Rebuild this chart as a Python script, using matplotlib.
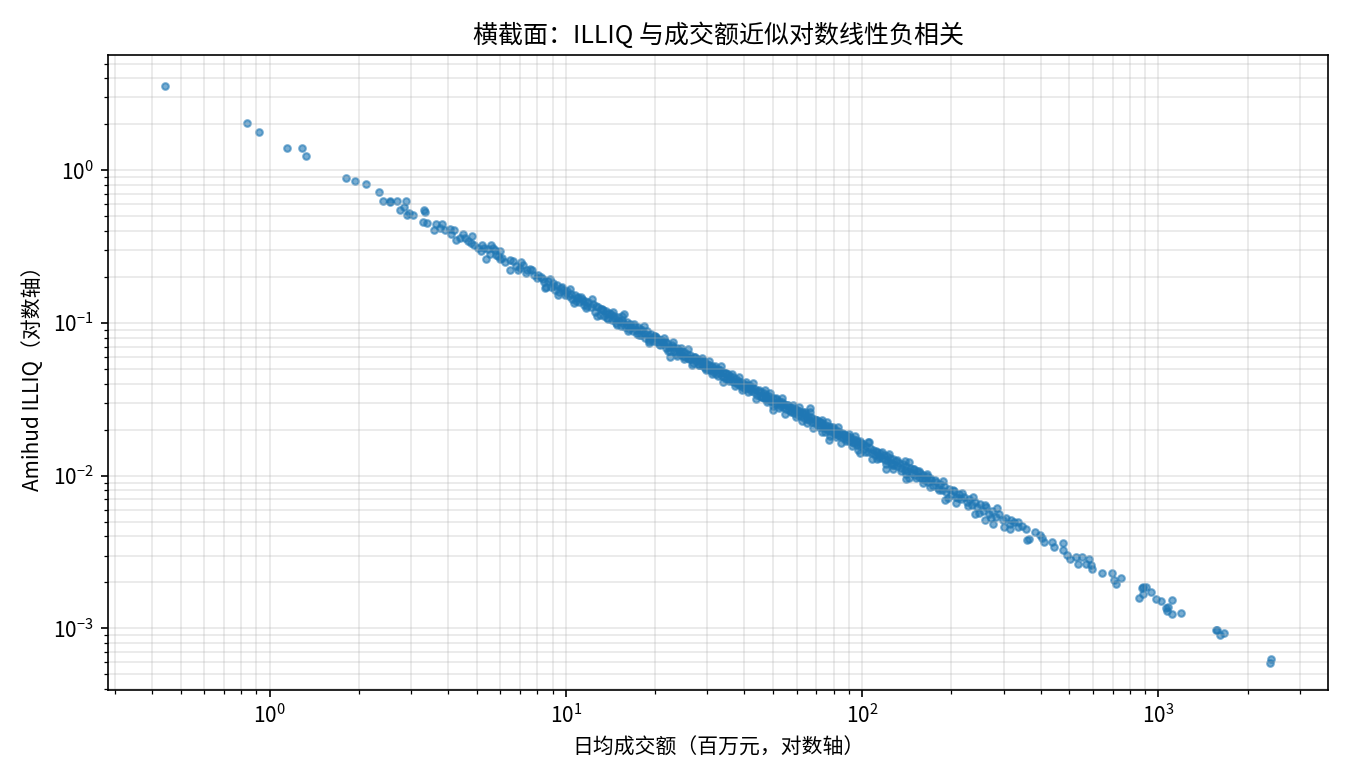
import numpy as np
import matplotlib
matplotlib.use("Agg")
import matplotlib.pyplot as plt

plt.rcParams['font.family'] = ['Noto Sans CJK SC', 'DejaVu Sans']

# 日均成交额（百万元）与 Amihud ILLIQ
amt_low = [0.443, 0.838, 0.92, 1.144, 1.285, 1.32, 1.80, 1.94, 2.11, 2.33, 2.41, 2.54, 2.55,
           2.69, 2.87, 2.74, 2.83, 2.91, 2.95, 3.05, 3.31, 3.33, 3.29, 3.65, 3.80, 3.58, 3.75,
           4.05, 4.19, 4.47, 4.55, 4.25, 4.83, 4.79, 4.65, 5.22, 5.18, 5.38, 5.60, 5.75, 5.97,
           5.90, 6.0, 6.46, 6.49, 6.6, 7.07, 6.89, 7.16, 7.34, 7.53, 7.7, 8.05, 8.37, 8.45, 8.58,
           5.3, 5.45, 5.55, 5.65, 5.8, 6.1, 6.2, 6.8, 7.0, 7.4, 7.8, 8.0, 8.2,
           3.4, 3.9, 4.1, 4.4, 4.9, 5.05]
illiq_low = [3.59, 2.05, 1.79, 1.39, 1.39, 1.235, 0.895, 0.847, 0.818, 0.718, 0.633, 0.633, 0.620,
             0.627, 0.627, 0.547, 0.575, 0.513, 0.525, 0.513, 0.547, 0.535, 0.461, 0.448, 0.448, 0.409, 0.419,
             0.415, 0.409, 0.381, 0.362, 0.348, 0.370, 0.336, 0.342, 0.323, 0.296, 0.264, 0.323, 0.300, 0.296,
             0.273, 0.263, 0.260, 0.221, 0.255, 0.251, 0.221, 0.239, 0.213, 0.227, 0.222, 0.205, 0.195, 0.185, 0.172,
             0.310, 0.305, 0.285, 0.312, 0.280, 0.268, 0.250, 0.235, 0.228, 0.223, 0.205, 0.196, 0.200,
             0.455, 0.405, 0.385, 0.360, 0.322, 0.310]

amt_mid = [8.7, 8.9, 9.0, 9.2, 9.3, 9.5, 9.6, 9.8, 9.9, 10.1, 10.2, 10.4, 10.5, 10.7, 10.8, 11.0,
           11.1, 11.3, 11.5, 11.6, 11.8, 11.9, 12.1, 9.1, 10.0, 10.9, 11.4,
           12.3, 12.5, 12.6, 12.8, 13.0, 13.1, 13.3, 13.4, 13.6, 13.7, 13.9, 14.0, 14.2, 14.3, 14.5,
           14.6, 14.8, 15.0, 15.1, 15.3, 15.5, 15.6, 15.8, 16.0, 16.1, 16.3, 16.5, 16.6, 16.8, 17.0,
           17.2, 17.4, 17.5, 17.7, 17.9, 18.1, 18.3, 18.5, 18.7, 18.9, 19.1, 19.3, 19.5, 19.7, 19.9,
           15.7, 19.06, 22.4,
           20.1, 20.3, 20.5, 20.8, 21.0, 21.2, 21.5, 21.7, 22.0, 22.2, 22.5, 22.7, 23.0, 23.2, 23.5,
           23.7, 24.0, 24.2, 24.5, 24.8, 25.0, 25.3, 25.6, 25.9, 26.2, 26.5, 26.8, 27.1, 27.4, 27.7,
           28.0, 28.3, 28.6, 28.9, 29.2, 29.5, 29.8, 30.1, 30.4, 30.7, 31.0, 31.3, 31.6, 31.9, 32.2,
           32.5, 32.8, 33.1, 33.5, 33.8, 34.1, 34.5, 34.8, 21.3, 26.0, 29.0, 31.5,
           35.1, 35.4, 35.8, 36.2, 36.6, 37.0, 37.4, 37.8, 38.2, 38.6, 39.0, 39.4, 39.8, 40.2, 40.6,
           41.0, 41.5, 42.0, 42.5, 43.0, 43.5, 44.0, 44.5, 45.0, 45.5, 46.0, 46.5, 47.0, 47.5, 48.0,
           48.6, 49.2, 49.8, 50.4, 51.0, 51.6, 52.2, 52.8, 53.4, 54.0, 54.6, 55.2, 55.8, 56.4, 57.0,
           57.6, 58.2, 58.8, 59.4, 38.0, 42.2, 47.2, 53.0, 50.0]
illiq_mid = [0.188, 0.171, 0.182, 0.165, 0.178, 0.160, 0.170, 0.165, 0.152, 0.162, 0.150, 0.156, 0.143,
             0.152, 0.140, 0.149, 0.137, 0.144, 0.132, 0.140, 0.130, 0.138, 0.127, 0.176, 0.158, 0.146, 0.139,
             0.133, 0.118, 0.130, 0.127, 0.113, 0.124, 0.122, 0.111, 0.120, 0.115, 0.106, 0.117, 0.114,
             0.104, 0.111, 0.106, 0.100, 0.109, 0.103, 0.096, 0.105, 0.100, 0.094, 0.102, 0.097, 0.091,
             0.099, 0.094, 0.088, 0.096, 0.090, 0.085, 0.094, 0.091, 0.084, 0.090, 0.086, 0.080, 0.088,
             0.083, 0.078, 0.085, 0.080, 0.076, 0.082,
             0.114, 0.0762, 0.060,
             0.081, 0.075, 0.078, 0.072, 0.077, 0.073, 0.076, 0.069, 0.074, 0.070, 0.066, 0.072, 0.070,
             0.066, 0.063, 0.069, 0.067, 0.063, 0.066, 0.061, 0.065, 0.060, 0.063, 0.059, 0.062, 0.058,
             0.055, 0.060, 0.056, 0.058, 0.053, 0.057, 0.054, 0.052, 0.056, 0.051, 0.054, 0.050, 0.053,
             0.049, 0.052, 0.048, 0.051, 0.049, 0.046, 0.050, 0.047, 0.049, 0.045, 0.048, 0.044, 0.047,
             0.043, 0.0755, 0.0585, 0.0555, 0.0495,
             0.046, 0.043, 0.045, 0.042, 0.044, 0.041, 0.043, 0.040, 0.042, 0.039, 0.041, 0.038, 0.040,
             0.037, 0.039, 0.0375, 0.039, 0.036, 0.038, 0.0355, 0.037, 0.034, 0.036, 0.0335, 0.0355,
             0.0330, 0.0348, 0.0320, 0.0340, 0.0315, 0.0335, 0.0310, 0.0325, 0.0300, 0.0318, 0.0295,
             0.0310, 0.0288, 0.0302, 0.0282, 0.0296, 0.0275, 0.0290, 0.0270, 0.0283, 0.0264, 0.0278,
             0.0258, 0.0272, 0.0405, 0.0372, 0.0330, 0.0297, 0.0268]

amt_upper = [60.0, 60.7, 61.4, 62.1, 62.8, 63.5, 64.2, 64.9, 65.6, 66.3, 67.0, 67.8, 68.6, 69.4,
             70.2, 71.0, 71.8, 72.6, 73.4, 74.2, 75.0, 75.8, 76.6, 77.4, 78.2, 79.0, 79.9, 80.8,
             81.7, 82.6, 83.5, 84.4, 85.3, 86.2, 87.1, 88.0, 89.0, 90.0, 91.0, 92.0, 93.0, 94.0,
             95.0, 96.0, 97.0, 98.0, 99.0, 63.0, 72.0, 81.0, 88.5, 66.8, 77.5, 73.0, 98.3,
             100.5, 101.5, 103, 104.5, 106, 107.5, 109, 110.5, 112, 113.5, 115, 116.5, 118, 119.5,
             121, 122.5, 124, 125.5, 127, 128.5, 130, 131.5, 133, 135, 137, 139, 141, 143, 145, 147,
             149, 151, 153, 155, 157, 159, 161, 163, 165, 167, 169, 112.5, 126, 140,
             120.6, 140.5, 143.5, 104.6,
             171, 174, 177, 180, 183, 186, 189, 192, 196, 200, 204, 208, 212, 216, 220, 225, 230,
             235, 240, 245, 250, 256, 262, 268, 275, 282, 290, 298, 306, 315, 325, 335, 345,
             259, 277, 315, 336, 208, 191, 240]
illiq_upper = [0.0270, 0.0250, 0.0264, 0.0245, 0.0258, 0.0240, 0.0252, 0.0234, 0.0247, 0.0230,
               0.0242, 0.0225, 0.0236, 0.0220, 0.0231, 0.0215, 0.0226, 0.0210, 0.0221, 0.0206,
               0.0216, 0.0201, 0.0212, 0.0197, 0.0207, 0.0193, 0.0203, 0.0189, 0.0199, 0.0185,
               0.0194, 0.0181, 0.0190, 0.0177, 0.0186, 0.0174, 0.0182, 0.0170, 0.0178, 0.0166,
               0.0174, 0.0163, 0.0171, 0.0160, 0.0167, 0.0157, 0.0164, 0.0262, 0.0224, 0.0188,
               0.0183, 0.0278, 0.0171, 0.0193, 0.0140,
               0.0161, 0.0150, 0.0157, 0.0144, 0.0152, 0.0141, 0.0148, 0.0137, 0.0144, 0.0134,
               0.0141, 0.0131, 0.0137, 0.0127, 0.0134, 0.0124, 0.0131, 0.0121, 0.0128, 0.0118,
               0.0125, 0.0116, 0.0122, 0.0112, 0.0119, 0.0109, 0.0116, 0.0107, 0.0113, 0.0104,
               0.0110, 0.0101, 0.0107, 0.0098, 0.0104, 0.0095, 0.0101, 0.0093, 0.0099, 0.0091,
               0.0096, 0.0128, 0.0117, 0.0102,
               0.0111, 0.00957, 0.0123, 0.0166,
               0.0094, 0.0086, 0.0091, 0.0083, 0.0088, 0.0080, 0.0085, 0.0078, 0.0082, 0.0075,
               0.0079, 0.0072, 0.0076, 0.0070, 0.0073, 0.0067, 0.0070, 0.0064, 0.0067, 0.0062,
               0.0065, 0.0059, 0.0062, 0.0056, 0.0059, 0.0054, 0.0056, 0.0051, 0.0053, 0.0048,
               0.0050, 0.0046, 0.0047,
               0.00516, 0.00481, 0.0045, 0.00497, 0.00663, 0.0069, 0.00565]

# 带状区域上下边缘的点
amt_edge = [8.5, 8.8, 9.4, 9.7, 10.3, 10.6, 11.2, 11.7, 12.2, 12.7, 13.2, 13.8, 14.4, 14.9, 15.4,
            16.2, 16.9, 17.6, 18.4, 19.0, 19.8, 20.6, 21.4, 22.1, 22.9, 23.6, 24.4, 25.1, 25.8,
            26.6, 27.3, 28.1, 28.8, 29.6, 30.3, 31.1, 31.8, 32.6, 33.3, 34.0, 34.7, 35.6, 36.4,
            37.2, 38.4, 39.2, 40.4, 41.2, 42.8, 43.8, 44.8, 45.8, 46.8, 47.8, 48.9, 50.1, 51.3,
            52.5, 53.7, 54.9, 56.1, 57.3, 58.5, 59.9, 61.0, 62.5, 63.9, 65.2, 66.6, 68.0, 69.8,
            71.4, 73.0, 74.6, 76.2, 78.0, 79.6, 81.3, 83.0, 84.8, 86.6, 88.4, 90.5, 92.5, 94.5,
            96.5, 98.6, 102, 105, 108, 111, 114, 117, 120, 123.5, 127.5, 131, 135.5, 139.5, 144,
            148, 152, 156, 160, 165, 170, 176, 182, 188, 195, 202, 210, 218, 227, 237, 248, 260,
            272, 286, 300, 318]
illiq_edge = [0.169, 0.195, 0.152, 0.172, 0.1667, 0.1352, 0.149, 0.1252, 0.1433, 0.1104, 0.1241,
              0.1084, 0.1181, 0.0972, 0.1115, 0.0885, 0.0988, 0.0832, 0.0950, 0.0738, 0.0827,
              0.0726, 0.0795, 0.0656, 0.0750, 0.0607, 0.0684, 0.0583, 0.0678, 0.0527, 0.0600,
              0.0532, 0.0591, 0.0489, 0.0567, 0.0461, 0.0525, 0.0449, 0.0525, 0.0412, 0.0472,
              0.0419, 0.0466, 0.0388, 0.0446, 0.0365, 0.0412, 0.0354, 0.0407, 0.0319, 0.0364,
              0.0326, 0.0362, 0.0302, 0.0350, 0.0285, 0.0324, 0.0278, 0.0324, 0.0255, 0.0291,
              0.0260, 0.0290, 0.0241, 0.0280, 0.0228, 0.0260, 0.0223, 0.0261, 0.0205, 0.0233,
              0.0208, 0.0232, 0.0193, 0.0224, 0.0183, 0.0208, 0.0179, 0.0209, 0.0164, 0.0188,
              0.0168, 0.0187, 0.0156, 0.0181, 0.0148, 0.0168, 0.0142, 0.0165, 0.0129, 0.0146,
              0.0130, 0.0144, 0.0120, 0.0138, 0.0111, 0.0126, 0.0107, 0.0124, 0.0096, 0.0110,
              0.0097, 0.0108, 0.0090, 0.0103, 0.0084, 0.0094, 0.0080, 0.0092, 0.0071, 0.0080,
              0.0071, 0.0077, 0.0063, 0.0072, 0.0057, 0.0064, 0.0053, 0.0061, 0.0046, 0.0051]

amt_high = [358, 359, 366, 382, 397, 405, 411, 438, 445, 477, 477, 490, 502, 526, 535, 554, 568,
            585, 590, 595, 646, 695, 708, 718, 748, 888, 877, 907, 890, 860, 947, 983, 1020, 1110,
            1058, 1077, 1069, 1110, 1192, 1560, 1580, 1610, 1660, 2404, 2380]
illiq_high = [0.00446, 0.00377, 0.00385, 0.00428, 0.00407, 0.00388, 0.00370, 0.00370, 0.00341,
              0.00362, 0.00325, 0.00301, 0.00286, 0.00292, 0.00265, 0.00292, 0.00265, 0.00286,
              0.00259, 0.00243, 0.00229, 0.00229, 0.00207, 0.00194, 0.00214, 0.00187, 0.00185,
              0.00187, 0.00169, 0.00157, 0.00172, 0.00155, 0.00151, 0.00153, 0.00135, 0.00139,
              0.00130, 0.00125, 0.00127, 0.000982, 0.00097, 0.00091, 0.000938, 0.000634, 0.000594]

amt = np.array(amt_low + amt_mid + amt_upper + amt_edge + amt_high)
illiq = np.array(illiq_low + illiq_mid + illiq_upper + illiq_edge + illiq_high)

fig, ax = plt.subplots(figsize=(9, 5.2), dpi=150)
fig.subplots_adjust(left=0.08, right=0.984, top=0.929, bottom=0.115)

ax.scatter(amt, illiq, s=10, alpha=0.6, color='tab:blue')
ax.set_xscale('log')
ax.set_yscale('log')
ax.set_xlim(0.284, 3750)
ax.set_ylim(3.93e-4, 5.66)
ax.grid(True, which='both', alpha=0.3)

ax.set_title('横截面：ILLIQ 与成交额近似对数线性负相关')
ax.set_xlabel('日均成交额（百万元，对数轴）')
ax.set_ylabel('Amihud ILLIQ（对数轴）')

plt.savefig('out.png', dpi=150)
